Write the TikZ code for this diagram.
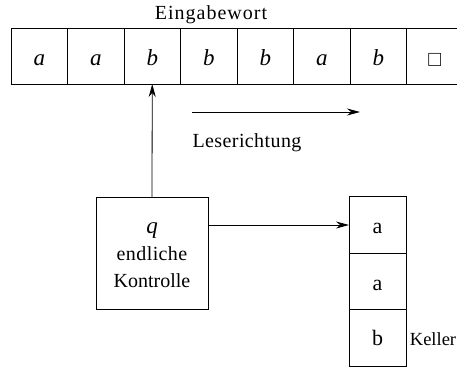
\documentclass[tikz,border=0pt]{standalone}
\usepackage{fontspec}
\setmainfont{Liberation Serif}
\newfontfamily\spacedA[LetterSpace=5]{Liberation Serif}
\newfontfamily\spacedB[LetterSpace=2]{Liberation Serif}
\usepackage{amssymb}
\usetikzlibrary{arrows.meta}
\begin{document}
\begin{tikzpicture}[x=1pt,y=-1pt,line width=0.8pt,
  font=\fontsize{20}{22}\selectfont,
  cell/.style={draw,minimum width=56.5pt,minimum height=56pt,inner sep=0pt,outer sep=0pt},
  stackcell/.style={draw,minimum width=57pt,minimum height=56.5pt,inner sep=0pt,outer sep=0pt},
  ctrlbox/.style={draw,minimum width=112pt,minimum height=112pt,inner sep=0pt,outer sep=0pt},
  txt/.style={anchor=base,inner sep=0pt},
  sym/.style={anchor=base,inner sep=0pt,font=\fontsize{23}{25}\selectfont\itshape},
  stk/.style={anchor=base,inner sep=0pt,font=\fontsize{22}{24}\selectfont},
  lbl/.style={anchor=base,inner sep=0pt,font=\fontsize{20}{22}\selectfont},
  arr/.style={-{Stealth[length=13pt,width=7pt]}}]
\useasboundingbox (0,0) rectangle (457,367);
% tape
\foreach \i/\s in {1/a,2/a,3/b,4/b,5/b,6/a,7/b}{
  \node[cell] (c\i) at ({11+56.5*(\i-0.5)},56) {};
  \node[sym] (s\i) at ({11+56.5*(\i-0.5)},65) {\s};
}
\node[cell] (c8) at ({11+56.5*7.5},56) {};
\node[txt,font=\fontsize{19}{21}\selectfont] (s8) at ({11+56.5*7.5},66) {$\square$};
\node[lbl,font=\fontsize{20}{22}\selectfont\spacedA] (eingabe) at (211,19) {Eingabewort};
% reading direction
\coordinate (ls) at (192,112);
\coordinate (le) at (360,112);
\draw[arr] (ls) -- (le);
\node[lbl,font=\fontsize{20}{22}\selectfont\spacedB] (lese) at (247,147) {Leserichtung};
% control
\node[ctrlbox] (ctrl) at (152,253) {};
\node[sym] (q) at (152,233) {q};
\node[lbl,font=\fontsize{20}{22}\selectfont\spacedB] (endl) at (152,260) {endliche};
\node[lbl] (kontr) at (152,287) {Kontrolle};
% stack
\node[stackcell] (k1) at (377.5,225) {};
\node[stackcell] (k2) at (377.5,281.5) {};
\node[stackcell] (k3) at (377.5,338) {};
\node[stk] (ka) at (377.5,233) {a};
\node[stk] (kb) at (377.5,290) {a};
\node[stk] (kc) at (377.5,345) {b};
\node[lbl,anchor=base west,font=\fontsize{18.5}{20}\selectfont] (keller) at (409.5,345) {Keller};
% connectors
\draw[arr] (ctrl.north) -- (c3.south);
\draw[arr] (k1.west -| ctrl.east) -- (k1.west);
\end{tikzpicture}
\end{document}
